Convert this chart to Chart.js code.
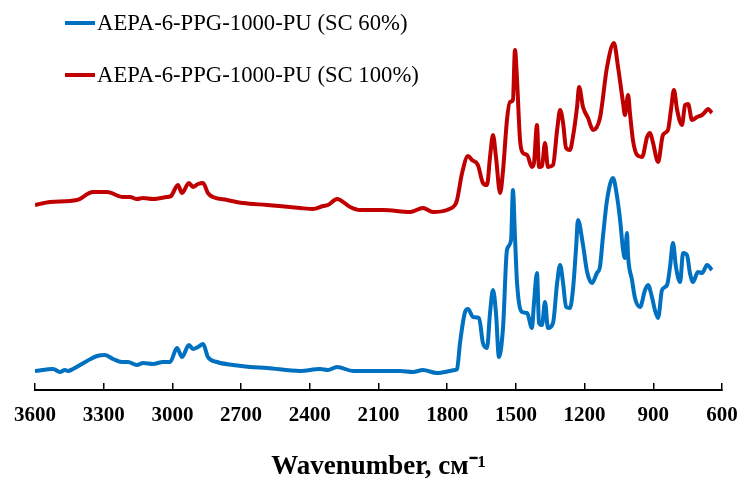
<!DOCTYPE html>
<html>
<head>
<meta charset="utf-8">
<script src="https://cdn.jsdelivr.net/npm/chart.js@4.4.1/dist/chart.umd.min.js"></script>
<style>
  body { margin: 0; background: #fff; }
  #wrap { width: 740px; height: 485px; }
</style>
</head>
<body>
<div id="wrap"><canvas id="myChart" width="740" height="485"></canvas></div>
<script>
// spectra, wavenumber (cm-1) and arbitrary absorbance units
const blueName = "AEPA-6-PPG-1000-PU (SC 60%)";
const redName = "AEPA-6-PPG-1000-PU (SC 100%)";

const blueWavenumbers = [3600, 3521, 3491, 3469, 3456, 3434, 3373, 3329, 3294, 3259, 3220, 3194, 3155, 3128, 3085, 3041, 3010, 2980, 2958, 2928, 2910, 2888, 2866, 2845, 2805, 2735, 2661, 2587, 2443, 2355, 2321, 2281, 2211, 2006, 1949, 1906, 1845, 1788, 1766, 1757, 1744, 1722, 1709, 1687, 1661, 1644, 1626, 1613, 1600, 1587, 1574, 1556, 1539, 1521, 1513, 1504, 1495, 1473, 1451, 1430, 1421, 1408, 1399, 1386, 1373, 1360, 1338, 1320, 1307, 1294, 1281, 1264, 1251, 1237, 1229, 1207, 1189, 1168, 1146, 1133, 1120, 1102, 1076, 1058, 1045, 1032, 1024, 1015, 1010, 993, 980, 958, 936, 923, 906, 893, 879, 862, 840, 827, 814, 801, 783, 770, 753, 740, 727, 705, 687, 665, 644];
const blueValues = [0.19, 0.21, 0.18, 0.20, 0.19, 0.21, 0.29, 0.34, 0.35, 0.31, 0.28, 0.28, 0.25, 0.27, 0.26, 0.28, 0.28, 0.42, 0.33, 0.45, 0.41, 0.43, 0.46, 0.33, 0.28, 0.25, 0.23, 0.22, 0.19, 0.21, 0.20, 0.23, 0.19, 0.19, 0.18, 0.20, 0.17, 0.19, 0.20, 0.21, 0.47, 0.78, 0.81, 0.73, 0.72, 0.47, 0.42, 0.77, 1.00, 0.77, 0.33, 0.63, 1.40, 1.50, 2.00, 1.53, 1.07, 0.78, 0.77, 0.62, 0.87, 1.17, 0.67, 0.65, 0.88, 0.62, 0.67, 1.07, 1.25, 1.07, 0.83, 0.82, 1.00, 1.43, 1.70, 1.45, 1.18, 1.07, 1.17, 1.23, 1.53, 1.90, 2.12, 1.93, 1.70, 1.40, 1.32, 1.57, 1.33, 1.10, 0.92, 0.83, 1.00, 1.05, 0.93, 0.80, 0.72, 1.00, 1.05, 1.23, 1.47, 1.23, 1.08, 1.37, 1.35, 1.17, 1.08, 1.18, 1.17, 1.25, 1.20];

const redWavenumbers = [3600, 3534, 3417, 3347, 3286, 3216, 3185, 3155, 3128, 3085, 3024, 3006, 2976, 2958, 2928, 2910, 2888, 2866, 2845, 2823, 2762, 2692, 2587, 2443, 2386, 2342, 2321, 2281, 2224, 2181, 2080, 1962, 1906, 1862, 1801, 1766, 1757, 1735, 1709, 1692, 1666, 1644, 1626, 1613, 1600, 1587, 1569, 1556, 1539, 1526, 1513, 1504, 1495, 1482, 1469, 1451, 1430, 1421, 1408, 1399, 1386, 1373, 1360, 1338, 1320, 1307, 1294, 1281, 1264, 1251, 1233, 1224, 1207, 1185, 1163, 1133, 1102, 1072, 1054, 1032, 1024, 1010, 1002, 989, 971, 949, 927, 914, 901, 879, 858, 836, 823, 810, 796, 775, 761, 748, 731, 709, 687, 674, 661, 644];
const redValues = [1.85, 1.88, 1.90, 1.98, 1.98, 1.93, 1.93, 1.91, 1.92, 1.91, 1.93, 1.94, 2.05, 1.97, 2.07, 2.03, 2.06, 2.07, 1.97, 1.93, 1.90, 1.87, 1.85, 1.82, 1.81, 1.84, 1.85, 1.91, 1.83, 1.80, 1.80, 1.78, 1.82, 1.78, 1.80, 1.85, 1.90, 2.17, 2.34, 2.30, 2.25, 2.07, 2.05, 2.33, 2.55, 2.33, 1.97, 2.20, 2.70, 2.88, 2.90, 3.40, 3.10, 2.50, 2.37, 2.35, 2.23, 2.27, 2.65, 2.23, 2.24, 2.47, 2.23, 2.25, 2.60, 2.80, 2.67, 2.42, 2.40, 2.53, 2.83, 3.03, 2.83, 2.72, 2.60, 2.72, 3.23, 3.47, 3.23, 2.87, 2.75, 2.95, 2.77, 2.50, 2.35, 2.33, 2.53, 2.57, 2.47, 2.28, 2.55, 2.60, 2.80, 3.00, 2.80, 2.65, 2.85, 2.86, 2.70, 2.73, 2.75, 2.78, 2.81, 2.77];

const xTicks = [3600, 3300, 3000, 2700, 2400, 2100, 1800, 1500, 1200, 900, 600];

const serif = "'Times New Roman', 'Liberation Serif', serif";

function pairs(xs, ys) {
  return xs.map((x, i) => ({ x: x, y: ys[i] }));
}

// legend drawn inside the plot, top left, one row per series
const insideLegend = {
  id: 'insideLegend',
  afterDraw(chart) {
    const ctx = chart.ctx;
    const rows = [
      { label: blueName, color: '#0070C0', y: 23 },
      { label: redName, color: '#C00000', y: 75 }
    ];
    ctx.save();
    rows.forEach(r => {
      ctx.strokeStyle = r.color;
      ctx.lineWidth = 4;
      ctx.beginPath();
      ctx.moveTo(65, r.y);
      ctx.lineTo(95, r.y);
      ctx.stroke();
      ctx.fillStyle = '#000';
      ctx.font = "22.7px " + serif;
      ctx.textBaseline = 'middle';
      ctx.fillText(r.label, 97, r.y + 1);
    });
    ctx.restore();
  }
};

let charte = document.getElementById("myChart");
new Chart(charte, {
  type: 'line',
  data: {
    datasets: [
      {
        label: blueName,
        data: pairs(blueWavenumbers, blueValues),
        borderColor: '#0070C0',
        borderWidth: 4,
        pointRadius: 0,
        cubicInterpolationMode: 'monotone'
      }, {
        label: redName,
        data: pairs(redWavenumbers, redValues),
        borderColor: '#C00000',
        borderWidth: 4,
        pointRadius: 0,
        cubicInterpolationMode: 'monotone'
      }
    ]
  },
  options: {
    responsive: false,
    animation: false,
    layout: { padding: { left: 35, right: 18, top: 0, bottom: 0 } },
    plugins: {
      legend: { display: false },
      tooltip: { enabled: false }
    },
    scales: {
      x: {
        type: 'linear',
        reverse: true,
        min: 600,
        max: 3600,
        afterBuildTicks: (scale) => { scale.ticks = xTicks.map(v => ({ value: v })); },
        afterFit: (scale) => {
          scale.height = 95;
          scale.paddingLeft = 0;
          scale.paddingRight = 0;
        },
        border: { display: true, color: '#000', width: 2 },
        grid: { display: true, drawOnChartArea: false, drawTicks: true, tickLength: -7, color: '#000', lineWidth: 1.5 },
        ticks: {
          autoSkip: false,
          maxRotation: 0,
          padding: 20,
          color: '#000',
          callback: (v) => String(v),
          font: { family: serif, size: 21, weight: 'bold' }
        },
        title: {
          display: true,
          text: 'Wavenumber, см⁻¹',
          color: '#000',
          font: { family: serif, size: 27, weight: 'bold' },
          padding: { top: 0, bottom: 2 }
        }
      },
      y: {
        display: false,
        min: 0,
        max: 3.9
      }
    }
  },
  plugins: [insideLegend]
});
</script>
</body>
</html>
